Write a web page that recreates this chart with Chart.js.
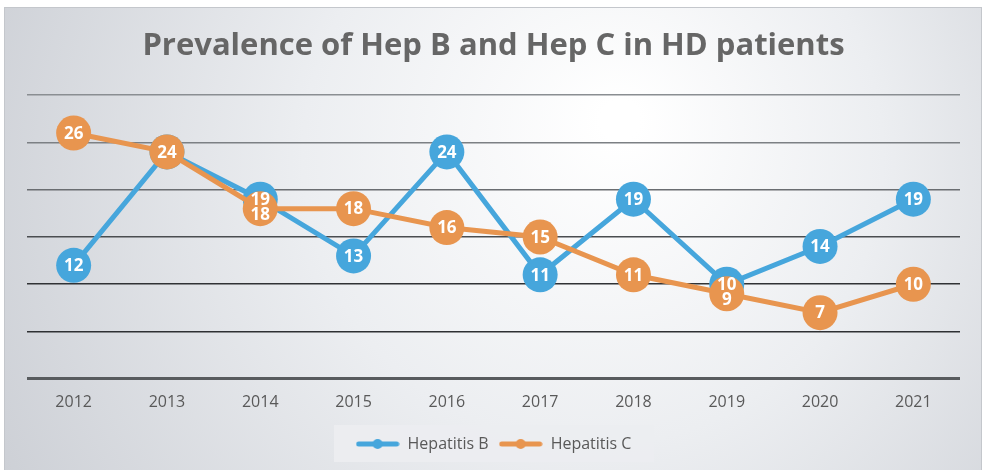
<!DOCTYPE html>
<html>
<head>
<meta charset="utf-8">
<script src="https://cdn.jsdelivr.net/npm/chart.js@4.4.1/dist/chart.umd.min.js"></script>
<style>
  html, body { margin: 0; padding: 0; background: #ffffff; }
  #wrap { width: 985px; height: 470px; }
</style>
</head>
<body>
<div id="wrap"><canvas id="myChart" width="985" height="470"></canvas></div>
<script>
// chart data
const years = ["2012", "2013", "2014", "2015", "2016", "2017", "2018", "2019", "2020", "2021"];
const hepB = [12, 24, 19, 13, 24, 11, 19, 10, 14, 19];
const hepC = [26, 24, 18, 18, 16, 15, 11, 9, 7, 10];
const chartTitle = "Prevalence of Hep B and Hep C in HD patients";

const blue = "#46a6dc";
const orange = "#e8954f";
const textGray = "#595959";

// gridline colours from bottom (0) to top (30), by tick index
const gridColors = ["#585b5e", "#2e3033", "#303235", "#4a4d50", "#6a6d71", "#7c8084", "#8a8e92"];
const gridWidths = [3, 1.6, 1.6, 1.6, 1.6, 1.6, 1.6];

// little legend icon: line with a dot in the middle
function legendIcon(color) {
    const c = document.createElement("canvas");
    c.width = 44;
    c.height = 12;
    const g = c.getContext("2d");
    g.strokeStyle = color;
    g.lineWidth = 5;
    g.lineCap = "round";
    g.beginPath();
    g.moveTo(3, 6);
    g.lineTo(41, 6);
    g.stroke();
    g.fillStyle = color;
    g.beginPath();
    g.arc(22, 6, 5, 0, Math.PI * 2);
    g.fill();
    return c;
}

// background panel behind everything
const backgroundPlugin = {
    id: "panelBg",
    beforeDraw(chart) {
        const ctx = chart.ctx;
        ctx.save();
        ctx.fillStyle = "#ffffff";
        ctx.fillRect(0, 0, chart.width, chart.height);
        const grad = ctx.createRadialGradient(620, 120, 20, 560, 200, 620);
        grad.addColorStop(0, "#ffffff");
        grad.addColorStop(0.45, "#eceef1");
        grad.addColorStop(1, "#cdd0d6");
        ctx.fillStyle = grad;
        ctx.fillRect(4, 7, 978, 463);
        ctx.strokeStyle = "#c4c7cc";
        ctx.lineWidth = 1;
        ctx.strokeRect(4.5, 7.5, 977, 470);
        // legend box
        ctx.fillStyle = "rgba(236,237,240,0.95)";
        ctx.fillRect(334, 425, 320, 37);
        ctx.restore();
    }
};

// white numbers in the middle of the points
const valueLabels = {
    id: "valueLabels",
    afterDatasetsDraw(chart) {
        const ctx = chart.ctx;
        const metaB = chart.getDatasetMeta(0);
        const metaC = chart.getDatasetMeta(1);
        ctx.save();
        ctx.fillStyle = "#ffffff";
        ctx.font = "bold 17px 'Open Sans'";
        ctx.textAlign = "center";
        ctx.textBaseline = "middle";
        for (let i = 0; i < years.length; i++) {
            const pb = metaB.data[i];
            const pc = metaC.data[i];
            let yb = pb.y;
            let yc = pc.y;
            if (hepB[i] !== hepC[i] && Math.abs(yb - yc) < 15) {
                // overlapping points, push the lower label down
                if (yc > yb) {
                    yc = yb + 15;
                } else {
                    yb = yc + 15;
                }
            }
            if (hepB[i] !== hepC[i]) {
                ctx.fillText(hepB[i], pb.x, yb + 1);
            }
            ctx.fillText(hepC[i], pc.x, yc + 1);
        }
        ctx.restore();
    }
};

const ctx = document.getElementById("myChart");
const myChart = new Chart(ctx, {
    type: "line",
    data: {
        labels: years,
        datasets: [
            {
                label: "Hepatitis B",
                data: hepB,
                borderColor: blue,
                backgroundColor: blue,
                pointBackgroundColor: blue,
                pointBorderWidth: 0,
                borderWidth: 5,
                pointRadius: 17.5,
                pointHoverRadius: 17.5,
                tension: 0,
                order: 1
            },
            {
                label: "Hepatitis C",
                data: hepC,
                borderColor: orange,
                backgroundColor: orange,
                pointBackgroundColor: orange,
                pointBorderWidth: 0,
                borderWidth: 5,
                pointRadius: 17.5,
                pointHoverRadius: 17.5,
                tension: 0,
                order: 0
            }
        ]
    },
    options: {
        responsive: false,
        animation: false,
        layout: {
            padding: { left: 27, right: 25, top: 0, bottom: 8 }
        },
        scales: {
            x: {
                offset: true,
                grid: { display: false, drawTicks: false },
                border: { display: false },
                ticks: {
                    color: textGray,
                    padding: 14,
                    font: { family: "'Open Sans'", size: 16 }
                }
            },
            y: {
                min: 0,
                max: 30,
                ticks: { display: false, stepSize: 5 },
                border: { display: false },
                grid: {
                    drawTicks: false,
                    color: (c) => gridColors[c.index],
                    lineWidth: (c) => gridWidths[c.index]
                }
            }
        },
        plugins: {
            title: {
                display: true,
                text: chartTitle,
                color: "#666666",
                font: { family: "'Open Sans'", size: 31, weight: "bold" },
                padding: { top: 28, bottom: 30 }
            },
            legend: {
                position: "bottom",
                labels: {
                    usePointStyle: true,
                    pointStyleWidth: 44,
                    color: textGray,
                    font: { family: "'Open Sans'", size: 16 },
                    padding: 10,
                    sort: (a, b) => a.datasetIndex - b.datasetIndex,
                    generateLabels(chart) {
                        return chart.data.datasets.map((ds, i) => ({
                            text: ds.label,
                            fillStyle: ds.borderColor,
                            strokeStyle: ds.borderColor,
                            fontColor: textGray,
                            pointStyle: legendIcon(ds.borderColor),
                            lineWidth: 0,
                            hidden: false,
                            datasetIndex: i
                        }));
                    }
                }
            },
            tooltip: { enabled: false }
        }
    },
    plugins: [backgroundPlugin, valueLabels]
});
</script>
</body>
</html>
